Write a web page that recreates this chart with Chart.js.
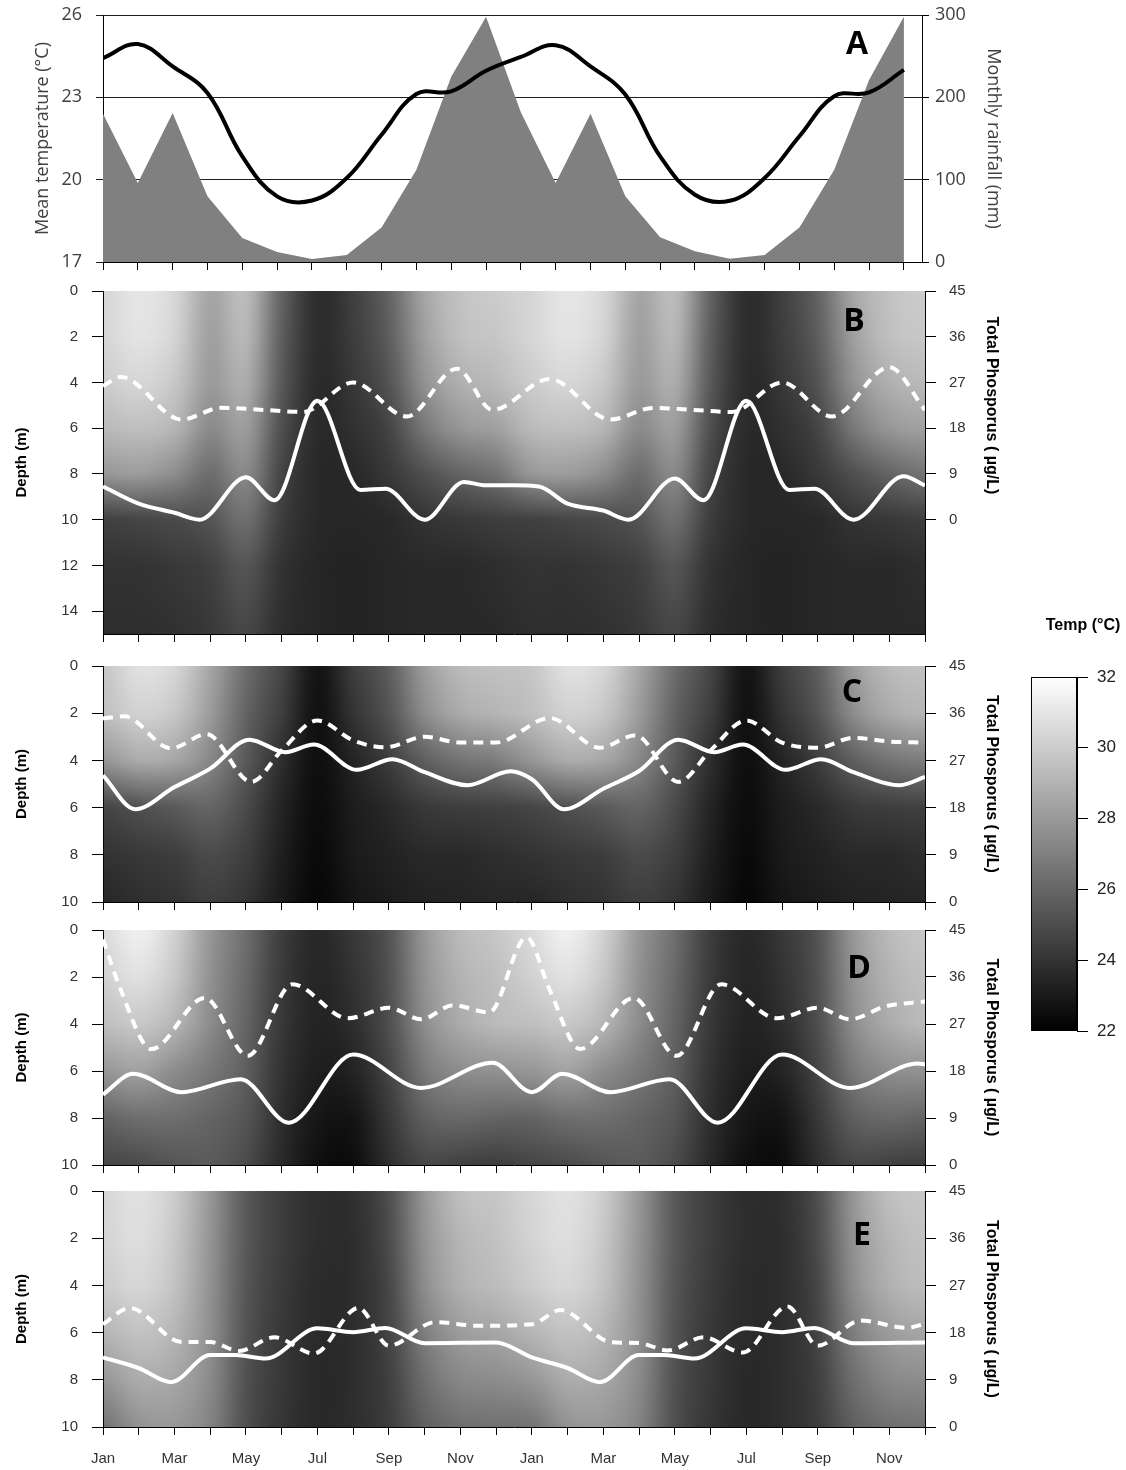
<!DOCTYPE html>
<html>
<head>
<meta charset="utf-8">
<title>Temperature, rainfall, depth and total phosphorus</title>
<script src="https://cdn.jsdelivr.net/npm/chart.js@4.4.1/dist/chart.umd.min.js"></script>
<style>
  html, body { margin:0; padding:0; background:#ffffff; }
  body { width:1126px; height:1470px; position:relative; overflow:hidden; }
  canvas { position:absolute; display:block; }
</style>
</head>
<body>
<canvas id="panelA" width="1010" height="285" style="left:0;top:0;width:1010px;height:285px"></canvas>
<canvas id="panelB" width="1010" height="365" style="left:0;top:281px;width:1010px;height:365px"></canvas>
<canvas id="panelC" width="1010" height="258" style="left:0;top:656px;width:1010px;height:258px"></canvas>
<canvas id="panelD" width="1010" height="257" style="left:0;top:920px;width:1010px;height:257px"></canvas>
<canvas id="panelE" width="1010" height="289" style="left:0;top:1181px;width:1010px;height:289px"></canvas>
<canvas id="cbar" width="126" height="450" style="left:1000px;top:600px;width:126px;height:450px"></canvas>
<script>
// ---------------- DATA ----------------
const monthIdx = [0,1,2,3,4,5,6,7,8,9,10,11,12,13,14,15,16,17,18,19,20,21,22,23];
const monthNames = ['Jan','Feb','Mar','Apr','May','Jun','Jul','Aug','Sep','Oct','Nov','Dec',
                    'Jan','Feb','Mar','Apr','May','Jun','Jul','Aug','Sep','Oct','Nov','Dec'];

// Panel A
const meanTemp = [24.43,24.94,24.13,23.16,20.85,19.39,19.24,20.06,21.64,23.12,23.22,23.97,
                  24.47,24.90,24.13,23.10,20.85,19.45,19.23,20.06,21.58,23.04,23.18,24.00];
const rainfall = [180,96,181,80,29,12,3.6,8.5,42,112,225,298,
                  182,96,180,80,30,13,4,8.5,42,112,221,298];
const tempTicks = [17,20,23,26];
const rainTicks = [0,100,200,300];

// Depth / TP axes
const depthTicks15 = [0,2,4,6,8,10,12,14];
const depthTicks10 = [0,2,4,6,8,10];
const tpTicks = [0,9,18,27,36,45];
const tpZeroDepth = 10;          // depth (m) at which the TP axis reads 0
const cbarTicks = [22,24,26,28,30,32];

// Panel B lines
const bSolidX = [0,1,2,2.7,4.0,4.8,6.0,7.2,7.9,9.0,10.1,10.7,11.5,12.2,13.0,14.0,14.7,16.0,16.8,18.0,19.2,19.9,21.0,22.4,23];
const bSolidDepth = [8.55,9.3,9.7,10.0,8.15,9.15,4.8,8.7,8.65,10.0,8.35,8.5,8.5,8.55,9.3,9.6,10.0,8.2,9.15,4.8,8.7,8.65,10.0,8.1,8.5];
const bTpX = [0,0.5,2.2,3.3,4.5,5.6,7.0,8.5,9.9,10.9,12.5,14.2,15.4,16.5,17.6,19.0,20.4,22.0,23];
const bTp  = [26.3,28.1,19.7,22.0,21.6,21.2,27.0,20.3,29.7,21.6,27.7,19.7,22.0,21.6,21.2,27.0,20.3,30.0,21.6];

// Panel C lines
const cSolidX = [0,0.9,2,3,4.1,5.1,5.9,7.1,8.1,9.0,10.2,11.4,12.0,12.9,14,15,16.1,17.1,17.9,19.1,20.1,21.0,22.3,23];
const cSolidDepth = [4.63,6.07,5.13,4.35,3.12,3.65,3.33,4.4,3.95,4.5,5.05,4.46,4.8,6.07,5.2,4.45,3.12,3.65,3.33,4.4,3.95,4.5,5.05,4.7];
const cTpX = [0,0.6,1.9,2.9,4.15,5.0,6.0,7.0,7.9,9.0,10.0,11.0,12.5,13.9,14.9,16.1,17.0,18.0,19.0,20.0,21.0,22.0,23.0];
const cTp  = [35.0,35.4,29.3,32.0,22.9,28.9,34.6,30.8,29.5,31.5,30.4,30.4,35.1,29.4,31.8,22.9,28.9,34.6,30.4,29.4,31.3,30.6,30.4];

// Panel D lines
const dSolidX = [0,0.85,2.2,3.85,5.2,7.0,8.9,10.9,12.0,12.85,14.2,15.85,17.2,19.0,20.9,22.8,23];
const dSolidDepth = [7.0,6.12,6.9,6.35,8.2,5.3,6.72,5.65,6.9,6.12,6.9,6.35,8.2,5.3,6.72,5.68,5.72];
const dTpX = [0,0.5,1.35,2.85,4.05,5.3,6.85,8.0,8.9,9.8,10.8,11.85,12.5,13.35,14.85,16.05,17.3,18.85,20.0,20.9,21.9,23.0];
const dTp  = [43.2,33.5,22.2,32.0,20.9,34.6,28.1,30.1,27.9,30.6,29.2,43.6,33.5,22.2,32.0,20.9,34.6,28.1,30.1,27.9,30.4,31.3];

// Panel E lines
const eSolidX = [0,1.0,1.9,3.0,3.7,4.55,6.0,7.0,7.9,9.0,11.0,12.0,13.0,13.9,15.0,15.7,16.55,18.0,19.0,19.9,21.0,23.0];
const eSolidDepth = [7.05,7.5,8.1,6.95,6.95,7.1,5.82,5.98,5.8,6.45,6.42,7.05,7.5,8.1,6.95,6.95,7.1,5.82,5.98,5.8,6.45,6.42];
const eTpX = [0,0.75,2.2,3.0,3.8,4.8,5.9,7.15,8.0,9.3,10.5,12.0,12.8,14.2,15.0,15.8,16.8,17.9,19.15,20.0,21.2,22.5,23];
const eTp  = [19.6,22.7,16.2,16.2,14.5,17.1,14.0,22.7,15.5,20.0,19.3,19.6,22.3,16.2,16.0,14.6,17.1,14.2,23.0,15.5,20.3,18.9,19.7];

// Temperature fields (°C), rows = depth levels, columns = months 0..23
const heatDepthsB = [0,2,4,6,8,10,12,15];
const tempB = [
 [30.4,31.0,30.4,28.5,29.3,25.9,23.8,24.5,25.9,28.5,29.6,30.0, 30.4,31.0,30.4,28.5,29.3,25.9,23.8,24.5,25.9,28.5,29.6,30.0],
 [30.4,30.9,30.3,28.3,29.1,25.7,23.8,24.4,25.7,28.2,29.5,29.8, 30.4,30.9,30.3,28.3,29.1,25.7,23.8,24.4,25.7,28.2,29.5,29.8],
 [30.0,30.4,29.8,28.1,28.7,25.5,23.7,24.2,25.3,27.7,28.9,29.3, 30.0,30.4,29.8,28.1,28.7,25.5,23.7,24.2,25.3,27.7,28.9,29.3],
 [29.3,29.5,29.1,27.5,28.1,25.1,23.7,23.9,24.7,26.7,27.9,28.3, 29.3,29.5,29.1,27.5,28.1,25.1,23.7,23.9,24.7,26.7,27.9,28.3],
 [27.9,28.1,27.5,26.3,27.3,24.7,23.6,23.6,24.2,25.1,25.9,26.5, 27.9,28.1,27.5,26.3,27.3,24.7,23.6,23.6,24.2,25.1,25.9,26.5],
 [24.5,24.7,24.9,25.3,26.3,24.4,23.6,23.5,23.6,24.0,24.2,24.4, 24.5,24.7,24.9,25.3,26.3,24.4,23.6,23.5,23.6,24.0,24.2,24.4],
 [24.0,24.0,24.2,24.5,25.3,24.0,23.5,23.4,23.5,23.6,23.6,23.8, 24.0,24.0,24.2,24.5,25.3,24.0,23.5,23.4,23.5,23.6,23.6,23.8],
 [23.8,23.8,23.9,24.2,24.7,23.8,23.5,23.4,23.5,23.6,23.6,23.6, 23.8,23.8,23.9,24.2,24.7,23.8,23.5,23.4,23.5,23.6,23.6,23.6]
];
const heatDepths10 = [0,2,4,6,8,10];
const tempC = [
 [29.8,30.8,30.4,28.5,26.3,24.7,22.8,24.4,25.7,28.1,29.3,29.6, 29.8,30.8,30.4,28.5,26.3,24.7,22.8,24.4,25.7,28.1,29.3,29.6],
 [29.5,30.2,29.8,28.1,25.9,24.4,22.7,24.0,25.3,27.5,28.7,29.1, 29.5,30.2,29.8,28.1,25.9,24.4,22.7,24.0,25.3,27.5,28.7,29.1],
 [27.9,28.7,28.5,27.3,25.5,23.8,22.6,23.4,24.4,25.7,26.5,26.9, 27.9,28.7,28.5,27.3,25.5,23.8,22.6,23.4,24.4,25.7,26.5,26.9],
 [24.7,25.1,25.5,25.9,24.9,23.4,22.5,23.1,23.6,24.2,24.4,24.5, 24.7,25.1,25.5,25.9,24.9,23.4,22.5,23.1,23.6,24.2,24.4,24.5],
 [24.0,24.2,24.4,24.9,24.4,23.2,22.4,23.0,23.3,23.6,23.6,23.8, 24.0,24.2,24.4,24.9,24.4,23.2,22.4,23.0,23.3,23.6,23.6,23.8],
 [23.5,23.8,24.0,24.4,24.0,23.0,22.3,22.8,23.1,23.3,23.4,23.5, 23.5,23.8,24.0,24.4,24.0,23.0,22.3,22.8,23.1,23.3,23.4,23.5]
];
const tempD = [
 [30.6,31.4,30.2,27.9,26.3,24.4,23.6,24.2,25.3,27.9,29.3,29.8, 30.6,31.4,30.2,27.9,26.3,24.4,23.6,24.2,25.3,27.9,29.3,29.8],
 [30.2,30.8,29.8,27.7,26.1,24.3,23.5,24.0,25.2,27.7,29.0,29.5, 30.2,30.8,29.8,27.7,26.1,24.3,23.5,24.0,25.2,27.7,29.0,29.5],
 [29.5,29.8,29.1,27.5,25.9,24.2,23.4,23.8,25.1,27.5,28.7,29.3, 29.5,29.8,29.1,27.5,25.9,24.2,23.4,23.8,25.1,27.5,28.7,29.3],
 [27.9,28.3,27.5,26.7,25.7,24.0,23.2,23.4,24.7,26.7,27.5,27.7, 27.9,28.3,27.5,26.7,25.7,24.0,23.2,23.4,24.7,26.7,27.5,27.7],
 [25.9,26.3,26.3,25.9,25.3,23.8,22.9,22.8,24.2,25.7,26.1,25.9, 25.9,26.3,26.3,25.9,25.3,23.8,22.9,22.8,24.2,25.7,26.1,25.9],
 [24.7,24.9,25.3,25.5,24.9,23.6,22.6,22.5,23.8,24.7,24.5,24.4, 24.7,24.9,25.3,25.5,24.9,23.6,22.6,22.5,23.8,24.7,24.5,24.4]
];
const tempE = [
 [30.4,30.8,30.0,27.9,25.5,24.4,23.8,23.9,25.1,27.9,29.5,29.8, 30.4,30.8,30.0,27.9,25.5,24.4,23.8,23.9,25.1,27.9,29.5,29.8],
 [30.3,30.7,29.8,27.8,25.5,24.4,23.8,23.8,25.0,27.7,29.1,29.6, 30.3,30.7,29.8,27.8,25.5,24.4,23.8,23.8,25.0,27.7,29.1,29.6],
 [30.0,30.4,29.6,27.7,25.4,24.3,23.7,23.8,24.8,27.5,28.9,29.4, 30.0,30.4,29.6,27.7,25.4,24.3,23.7,23.8,24.8,27.5,28.9,29.4],
 [29.1,29.6,29.1,27.6,25.3,24.2,23.7,23.8,24.7,26.9,28.1,28.5, 29.1,29.6,29.1,27.6,25.3,24.2,23.7,23.8,24.7,26.9,28.1,28.5],
 [27.9,28.7,28.5,27.4,25.2,24.2,23.6,23.8,24.5,26.3,27.3,27.5, 27.9,28.7,28.5,27.4,25.2,24.2,23.6,23.8,24.5,26.3,27.3,27.5],
 [26.5,27.7,27.9,27.1,25.1,24.1,23.6,23.8,24.4,25.7,26.3,26.4, 26.5,27.7,27.9,27.1,25.1,24.1,23.6,23.8,24.4,25.7,26.3,26.4]
];

// ---------------- RENDERING ----------------
Chart.defaults.font.family = '"Liberation Sans", Arial, sans-serif';
Chart.defaults.color = '#333';
Chart.defaults.animation = false;

const tMin = cbarTicks[0], tMax = cbarTicks[cbarTicks.length - 1];

// fixed axis sizes, no extra label padding pushed into the layout
const fixV = w => s => { s.width = w; s.paddingTop = 0; s.paddingBottom = 0; };
const fixH = h => s => { s.height = h; s.paddingLeft = 0; s.paddingRight = 0; };

function heatmap(grid, depths, months) {
  return {
    id: 'heatmap',
    beforeDraw(chart) {
      const {ctx, chartArea: a, scales} = chart;
      const xs = scales.x, ys = scales.y;
      const L = Math.round(a.left), T = Math.round(a.top);
      const w = Math.round(a.right) - L, h = Math.round(a.bottom) - T;
      const off = document.createElement('canvas');
      off.width = w; off.height = h;
      const octx = off.getContext('2d');
      const img = octx.createImageData(w, h);
      const nC = months.length;
      const mArr = new Float64Array(w);
      for (let px = 0; px < w; px++) mArr[px] = xs.getValueForPixel(L + px + 0.5);
      const col = new Float64Array(nC);
      for (let py = 0; py < h; py++) {
        const d = ys.getValueForPixel(T + py + 0.5);
        let r = 0;
        while (r < depths.length - 2 && d > depths[r + 1]) r++;
        let t = (d - depths[r]) / (depths[r + 1] - depths[r]);
        t = Math.max(0, Math.min(1, t));
        for (let c = 0; c < nC; c++) col[c] = grid[r][c] * (1 - t) + grid[r + 1][c] * t;
        for (let px = 0; px < w; px++) {
          const m = mArr[px];
          let i = 0;
          while (i < nC - 2 && m > months[i + 1]) i++;
          let u = (m - months[i]) / (months[i + 1] - months[i]);
          u = Math.max(0, Math.min(1, u));
          const p0 = col[Math.max(0, i - 1)], p1 = col[i], p2 = col[i + 1], p3 = col[Math.min(nC - 1, i + 2)];
          const u2 = u * u, u3 = u2 * u;
          const v = 0.5 * (2 * p1 + (-p0 + p2) * u + (2 * p0 - 5 * p1 + 4 * p2 - p3) * u2 + (-p0 + 3 * p1 - 3 * p2 + p3) * u3);
          let g = Math.round(255 * (v - tMin) / (tMax - tMin));
          g = Math.max(0, Math.min(255, g));
          const k = (py * w + px) * 4;
          img.data[k] = g; img.data[k + 1] = g; img.data[k + 2] = g; img.data[k + 3] = 255;
        }
      }
      octx.putImageData(img, 0, 0);
      ctx.drawImage(off, L, T);
    }
  };
}

function decor(letter, dx, dy, rightTitle) {
  return {
    id: 'decor',
    afterDraw(chart) {
      const {ctx, chartArea: a} = chart;
      ctx.save();
      ctx.fillStyle = '#000';
      ctx.font = 'bold 32px "Open Sans"';
      ctx.textAlign = 'center';
      ctx.textBaseline = 'middle';
      ctx.fillText(letter, a.right - dx, a.top + dy);
      if (rightTitle) {
        const y1 = chart.scales.y1;
        const yc = (y1.getPixelForValue(tpTicks[0]) + y1.getPixelForValue(tpTicks[tpTicks.length - 1])) / 2;
        ctx.translate(chart.width - 19, yc);
        ctx.rotate(Math.PI / 2);
        ctx.font = 'bold 16px "Liberation Sans"';
        ctx.fillText(rightTitle, 0, 0);
      }
      ctx.restore();
    }
  };
}

const setTicks = arr => s => { s.ticks = arr.map(v => ({value: v})); };

// Panel A
new Chart(document.getElementById('panelA'), {
  type: 'line',
  data: { datasets: [
    { label: 'Mean temperature', data: monthIdx.map((m, i) => ({x: m, y: meanTemp[i]})), yAxisID: 'y',
      borderColor: '#000', borderWidth: 4, tension: 0.4, pointRadius: 0, fill: false },
    { label: 'Monthly rainfall', data: monthIdx.map((m, i) => ({x: m, y: rainfall[i]})), yAxisID: 'y1',
      borderWidth: 0, borderColor: 'rgba(0,0,0,0)', backgroundColor: '#808080', tension: 0, pointRadius: 0, fill: 'origin' }
  ]},
  options: {
    responsive: false, animation: false, events: [],
    layout: { padding: { top: 15, left: 0, right: 0, bottom: 0 } },
    plugins: { legend: { display: false }, tooltip: { enabled: false } },
    scales: {
      x: { type: 'linear', min: 0, max: 23.52, afterBuildTicks: setTicks(monthIdx), afterFit: fixH(23),
           ticks: { display: false }, grid: { drawOnChartArea: false, tickLength: 8, color: '#000' },
           border: { display: true, color: '#000', width: 1 } },
      y: { position: 'left', min: 17, max: 26, afterBuildTicks: setTicks(tempTicks), afterFit: fixV(103),
           ticks: { font: { family: '"Open Sans"', size: 18 }, color: '#404040', padding: 14 },
           grid: { color: '#1e1e1e', lineWidth: 1, tickLength: 7 }, border: { display: true, color: '#000' },
           title: { display: true, text: 'Mean temperature (°C)', font: { family: '"Open Sans"', size: 18 }, color: '#404040', padding: { top: 32, bottom: 0 } } },
      y1: { position: 'right', min: 0, max: 300, afterBuildTicks: setTicks(rainTicks), afterFit: fixV(88),
           ticks: { font: { family: '"Open Sans"', size: 18 }, color: '#404040', padding: 6 },
           grid: { drawOnChartArea: false, color: '#000', tickLength: 7 }, border: { display: true, color: '#000' },
           title: { display: true, text: 'Monthly rainfall (mm)', font: { family: '"Open Sans"', size: 18 }, color: '#404040', padding: { top: 6, bottom: 0 } } }
    }
  },
  plugins: [decor('A', 65, 30)]
});

function panel(id, o) {
  const tpMax = tpTicks[tpTicks.length - 1];
  const tpMin = tpMax - (tpMax / tpZeroDepth) * o.depthMax;
  new Chart(document.getElementById(id), {
    type: 'line',
    data: { datasets: [
      { label: 'Depth line', data: o.solidX.map((x, i) => ({x, y: o.solidDepth[i]})), yAxisID: 'y',
        borderColor: '#ffffff', borderWidth: 4, pointRadius: 0, cubicInterpolationMode: 'monotone', fill: false },
      { label: 'Total phosphorus', data: o.tpX.map((x, i) => ({x, y: o.tp[i]})), yAxisID: 'y1',
        borderColor: '#ffffff', borderWidth: 4, borderDash: [10, 7], pointRadius: 0, cubicInterpolationMode: 'monotone', fill: false }
    ]},
    options: {
      responsive: false, animation: false, events: [],
      layout: { padding: { top: 10, left: 0, right: 0, bottom: 0 } },
      plugins: { legend: { display: false }, tooltip: { enabled: false } },
      scales: {
        x: { type: 'linear', min: monthIdx[0], max: monthIdx[monthIdx.length - 1], afterBuildTicks: setTicks(monthIdx),
             afterFit: fixH(o.xHeight),
             ticks: { autoSkip: false, maxRotation: 0, minRotation: 0, padding: 15, font: { size: 15 }, color: '#333',
                      callback: v => (o.showMonths && v % 2 === 0) ? monthNames[v] : '' },
             grid: { drawOnChartArea: false, tickLength: 8, color: '#000' }, border: { display: true, color: '#000' } },
        y: { position: 'left', reverse: true, min: 0, max: o.depthMax, afterBuildTicks: setTicks(o.depthTicks),
             afterFit: fixV(103),
             ticks: { font: { size: 15 }, color: '#333', padding: 14 },
             grid: { drawOnChartArea: false, tickLength: 11, color: '#000' }, border: { display: true, color: '#000' },
             title: { display: true, text: 'Depth (m)', font: { size: 15, weight: 'bold' }, color: '#000', padding: { top: 13, bottom: 0 } } },
        y1: { position: 'right', min: tpMin, max: tpMax, afterBuildTicks: setTicks(tpTicks),
             afterFit: fixV(85),
             ticks: { font: { size: 15 }, color: '#333', padding: 13 },
             grid: { drawOnChartArea: false, tickLength: 11, color: '#000' }, border: { display: true, color: '#000' } }
      }
    },
    plugins: [heatmap(o.grid, o.depths, monthIdx), decor(o.letter, o.dx, o.dy, 'Total Phosporus ( µg/L)')]
  });
}

panel('panelB', { depthMax: 15, depthTicks: depthTicks15, grid: tempB, depths: heatDepthsB,
  solidX: bSolidX, solidDepth: bSolidDepth, tpX: bTpX, tp: bTp, letter: 'B', dx: 71, dy: 31, xHeight: 12, showMonths: false });
panel('panelC', { depthMax: 10, depthTicks: depthTicks10, grid: tempC, depths: heatDepths10,
  solidX: cSolidX, solidDepth: cSolidDepth, tpX: cTpX, tp: cTp, letter: 'C', dx: 73, dy: 27, xHeight: 12, showMonths: false });
panel('panelD', { depthMax: 10, depthTicks: depthTicks10, grid: tempD, depths: heatDepths10,
  solidX: dSolidX, solidDepth: dSolidDepth, tpX: dTpX, tp: dTp, letter: 'D', dx: 66, dy: 39, xHeight: 12, showMonths: false });
panel('panelE', { depthMax: 10, depthTicks: depthTicks10, grid: tempE, depths: heatDepths10,
  solidX: eSolidX, solidDepth: eSolidDepth, tpX: eTpX, tp: eTp, letter: 'E', dx: 63, dy: 45, xHeight: 43, showMonths: true });

// Colour bar
const colorbar = {
  id: 'colorbar',
  beforeDraw(chart) {
    const {ctx, chartArea: a} = chart;
    const ys = chart.scales.y;
    const g = ctx.createLinearGradient(0, ys.getPixelForValue(tMax), 0, ys.getPixelForValue(tMin));
    g.addColorStop(0, '#ffffff');
    g.addColorStop(1, '#000000');
    ctx.save();
    ctx.fillStyle = g;
    ctx.fillRect(a.left, a.top, a.right - a.left, a.bottom - a.top);
    ctx.strokeStyle = '#000';
    ctx.lineWidth = 1;
    ctx.strokeRect(Math.round(a.left) + 0.5, Math.round(a.top) + 0.5, Math.round(a.right - a.left) - 1, Math.round(a.bottom - a.top) - 1);
    ctx.fillStyle = '#000';
    ctx.font = 'bold 16px "Liberation Sans"';
    ctx.textAlign = 'center';
    ctx.textBaseline = 'middle';
    ctx.fillText('Temp (°C)', a.right + 6, a.top - 51);
    ctx.restore();
  }
};
new Chart(document.getElementById('cbar'), {
  type: 'line',
  data: { datasets: [] },
  options: {
    responsive: false, animation: false, events: [],
    layout: { padding: { left: 31, top: 77, bottom: 19, right: 0 } },
    plugins: { legend: { display: false }, tooltip: { enabled: false } },
    scales: {
      x: { type: 'linear', display: false, min: 0, max: 1 },
      y: { position: 'right', min: tMin, max: tMax, afterBuildTicks: setTicks(cbarTicks), afterFit: fixV(49),
           ticks: { font: { size: 17 }, color: '#222', padding: 9 },
           grid: { drawOnChartArea: false, tickLength: 11, color: '#000' }, border: { display: true, color: '#000' } }
    }
  },
  plugins: [colorbar]
});
</script>
</body>
</html>
